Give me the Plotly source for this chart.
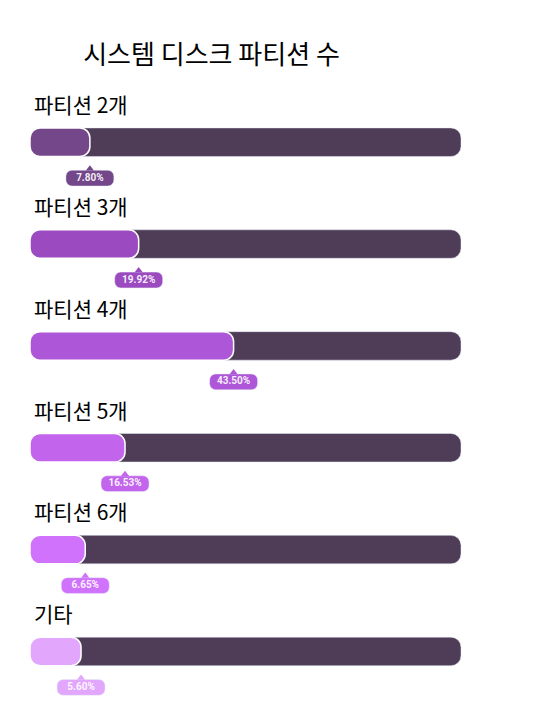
import plotly.graph_objects as go

# data
categories = ["파티션 2개", "파티션 3개", "파티션 4개", "파티션 5개", "파티션 6개", "기타"]
values = [7.80, 19.92, 43.50, 16.53, 6.65, 5.60]
fill_colors = ["#74478a", "#9b4bbf", "#ae56d8", "#c264ec", "#d072fc", "#e2a7fd"]
track_color = "#4f3d58"
title = "시스템 디스크 파티션 수"

# the page body keeps its default 8px margin, so pixel targets are shifted
OFF = 8
W, H = 533 - OFF, 713 - OFF

n = len(categories)
rows = list(range(n))
pad = 3.54        # half of the bar height, in axis units
tip_half = 5.96   # half width of the value bubble, in axis units
bubble_dy = 0.353
pointer_dy = 0.26
label_dy = -0.375

ends = [v + pad for v in values]

fig = go.Figure()

# background track
fig.add_trace(go.Bar(y=rows, base=[-pad] * n, x=[100 + 2 * pad] * n, orientation="h",
                     width=0.28, marker=dict(color=track_color, cornerradius=10)))

# filled part
fig.add_trace(go.Bar(y=rows, base=[-pad] * n, x=[v + 2 * pad for v in values],
                     orientation="h", width=0.28,
                     marker=dict(color=fill_colors, cornerradius=10,
                                 line=dict(color="white", width=1.5))))

# value bubbles
bubble_y = [r + bubble_dy for r in rows]
fig.add_trace(go.Bar(y=bubble_y, base=[e - tip_half for e in ends], x=[2 * tip_half] * n,
                     orientation="h", width=0.155,
                     marker=dict(color=fill_colors, cornerradius=6)))
fig.add_trace(go.Scatter(x=ends, y=[r + pointer_dy for r in rows], mode="markers",
                         marker=dict(symbol="triangle-up", size=7, color=fill_colors)))
fig.add_trace(go.Scatter(x=ends, y=bubble_y, mode="text",
                         text=[f"{v:.2f}%" for v in values],
                         textposition="middle center",
                         textfont=dict(family="Roboto", size=10, weight="bold",
                                       color="rgba(255,255,255,0.92)")))

# category labels
for r, c in zip(rows, categories):
    fig.add_annotation(x=(32 - OFF) / W, xref="paper", y=r + label_dy, yref="y",
                       text=c, showarrow=False, xanchor="left", yanchor="middle",
                       font=dict(family="Noto Sans CJK KR", size=21, color="#000000"))

x0_px = 44.25 - OFF
y0_px = 142.2 - OFF
fig.update_layout(
    width=W, height=H,
    margin=dict(l=0, r=0, t=0, b=0),
    barmode="overlay",
    showlegend=False,
    hovermode=False,
    paper_bgcolor="white", plot_bgcolor="white",
    title=dict(text=title, x=(211.5 - OFF) / W, xanchor="center", xref="paper",
               y=1 - (55 - OFF) / H, yanchor="middle", yref="container",
               font=dict(family="Noto Sans CJK KR", size=26, color="#000000")),
    xaxis=dict(range=[-x0_px / 4.025, (W - x0_px) / 4.025], visible=False,
               fixedrange=True),
    yaxis=dict(range=[(H - y0_px) / 101.85, -y0_px / 101.85], visible=False,
               fixedrange=True),
)

fig.write_html("out.html")
